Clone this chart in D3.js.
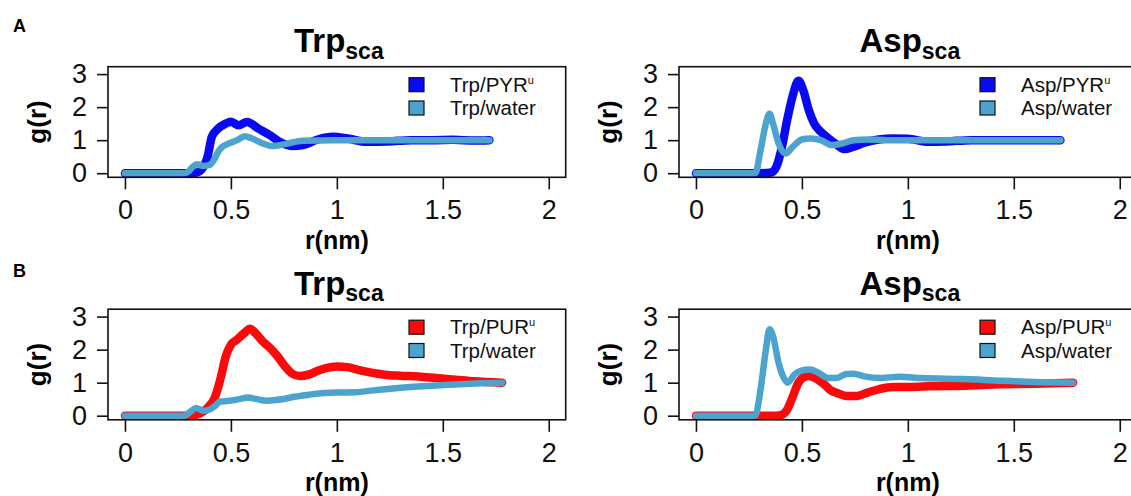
<!DOCTYPE html>
<html>
<head>
<meta charset="utf-8">
<script src="https://cdn.jsdelivr.net/npm/d3@7"></script>
<style>
  body { margin: 0; background: #fff; }
  svg { display: block; font-family: "Liberation Sans", Arial, sans-serif; }
</style>
</head>
<body>
<div class="chart"></div>
<script>
// ---- data ----
const xTicks = [0, 0.5, 1, 1.5, 2];
const yTicks = [0, 1, 2, 3];

// A, Trp: Trp/PYR
const trpPyrR = [0, 0.1, 0.2, 0.3, 0.34, 0.36, 0.39, 0.41, 0.44, 0.475, 0.5, 0.536, 0.576, 0.63, 0.685, 0.73, 0.79, 0.84, 0.91, 0.98, 1.05, 1.14, 1.24, 1.35, 1.45, 1.55, 1.65, 1.72];
const trpPyrG = [0, 0, 0, 0, 0.02, 0.1, 0.5, 1.1, 1.35, 1.5, 1.56, 1.45, 1.55, 1.35, 1.15, 0.95, 0.82, 0.85, 1.02, 1.1, 1.05, 0.95, 0.96, 1.0, 1.0, 1.01, 0.99, 1.0];
// A, Trp: Trp/water
const trpWatAR = [0, 0.1, 0.2, 0.28, 0.3, 0.32, 0.34, 0.37, 0.4, 0.42, 0.44, 0.46, 0.49, 0.53, 0.565, 0.6, 0.65, 0.7, 0.755, 0.84, 0.98, 1.1, 1.3, 1.5, 1.72];
const trpWatAG = [0, 0, 0, 0, 0.05, 0.2, 0.27, 0.22, 0.25, 0.4, 0.65, 0.8, 0.9, 1.0, 1.12, 1.05, 0.9, 0.82, 0.88, 0.98, 1.0, 1.0, 1.0, 1.0, 1.0];
// A, Asp: Asp/PYR
const aspPyrR = [0, 0.1, 0.2, 0.3, 0.355, 0.38, 0.406, 0.43, 0.457, 0.484, 0.507, 0.533, 0.558, 0.59, 0.626, 0.668, 0.7, 0.744, 0.794, 0.862, 0.93, 1.0, 1.1, 1.18, 1.3, 1.45, 1.6, 1.72];
const aspPyrG = [0, 0, 0, 0, 0.02, 0.2, 0.8, 1.6, 2.35, 2.8, 2.5, 1.9, 1.5, 1.25, 1.05, 0.85, 0.73, 0.8, 0.92, 1.02, 1.05, 1.04, 0.95, 0.96, 1.0, 1.0, 1.0, 1.0];
// A, Asp: Asp/water
const aspWatAR = [0, 0.1, 0.2, 0.28, 0.305, 0.33, 0.347, 0.364, 0.39, 0.423, 0.457, 0.5, 0.54, 0.59, 0.64, 0.69, 0.745, 0.81, 0.9, 1.0, 1.2, 1.4, 1.6, 1.72];
const aspWatAG = [0, 0, 0, 0, 0.7, 1.5, 1.8, 1.5, 0.9, 0.6, 0.8, 1.02, 1.05, 1.0, 0.85, 0.9, 1.0, 1.02, 1.0, 1.0, 1.0, 1.0, 1.0, 1.0];
// B, Trp: Trp/PUR
const trpPurR = [0, 0.1, 0.2, 0.28, 0.336, 0.388, 0.423, 0.45, 0.476, 0.5, 0.528, 0.563, 0.59, 0.616, 0.65, 0.685, 0.72, 0.755, 0.79, 0.825, 0.87, 0.91, 0.948, 1.0, 1.05, 1.1, 1.157, 1.227, 1.297, 1.385, 1.47, 1.56, 1.647, 1.78];
const trpPurG = [0, 0, 0, 0, 0.03, 0.23, 0.53, 1.1, 1.8, 2.15, 2.3, 2.5, 2.63, 2.5, 2.25, 2.05, 1.8, 1.5, 1.27, 1.2, 1.25, 1.36, 1.44, 1.49, 1.47, 1.39, 1.31, 1.24, 1.21, 1.19, 1.14, 1.09, 1.04, 1.0];
// B, Trp: Trp/water
const trpWatBR = [0, 0.1, 0.2, 0.28, 0.31, 0.336, 0.37, 0.397, 0.423, 0.45, 0.493, 0.545, 0.58, 0.616, 0.668, 0.72, 0.808, 0.895, 1.0, 1.087, 1.19, 1.33, 1.507, 1.68, 1.78];
const trpWatBG = [0, 0, 0, 0, 0.13, 0.23, 0.15, 0.18, 0.28, 0.43, 0.45, 0.51, 0.55, 0.51, 0.45, 0.48, 0.58, 0.66, 0.7, 0.71, 0.78, 0.86, 0.93, 0.98, 1.0];
// B, Asp: Asp/PUR
const aspPurR = [0, 0.1, 0.2, 0.3, 0.38, 0.406, 0.43, 0.457, 0.482, 0.507, 0.533, 0.567, 0.6, 0.634, 0.668, 0.71, 0.76, 0.81, 0.862, 0.93, 1.013, 1.1, 1.266, 1.435, 1.6, 1.78];
const aspPurG = [0, 0, 0, 0, 0, 0.03, 0.18, 0.58, 0.98, 1.16, 1.2, 1.13, 0.98, 0.78, 0.68, 0.6, 0.6, 0.7, 0.8, 0.87, 0.87, 0.89, 0.91, 0.95, 0.97, 1.0];
// B, Asp: Asp/water
const aspWatBR = [0, 0.1, 0.2, 0.28, 0.305, 0.33, 0.347, 0.364, 0.39, 0.415, 0.432, 0.465, 0.5, 0.54, 0.575, 0.626, 0.66, 0.71, 0.744, 0.794, 0.862, 0.963, 1.064, 1.266, 1.435, 1.6, 1.78];
const aspWatBG = [0, 0, 0, 0, 0.8, 2.0, 2.62, 2.4, 1.6, 1.14, 1.0, 1.25, 1.37, 1.4, 1.31, 1.14, 1.14, 1.26, 1.27, 1.19, 1.14, 1.18, 1.14, 1.11, 1.06, 1.02, 1.0];

const titles = ["Trp", "Asp", "Trp", "Asp"];
const legendNames = [["Trp/PYR", "Trp/water"], ["Asp/PYR", "Asp/water"], ["Trp/PUR", "Trp/water"], ["Asp/PUR", "Asp/water"]];
const seriesR = [[trpPyrR, trpWatAR], [aspPyrR, aspWatAR], [trpPurR, trpWatBR], [aspPurR, aspWatBR]];
const seriesG = [[trpPyrG, trpWatAG], [aspPyrG, aspWatAG], [trpPurG, trpWatBG], [aspPurG, aspWatBG]];

const BLUE = "#0a0af2", LIGHT = "#4ba3ce", RED = "#fa0a0a";
const mainColors = [BLUE, BLUE, RED, RED];

const W = 1131, H = 496;
const svg = d3.select(".chart").append("svg")
    .attr("width", W)
    .attr("height", H);

// panel offsets
const offsets = [[0, 0], [571, 0], [0, 242.5], [571, 242.5]];
const box = {left: 108, right: 565.7, top: 66.7, bottom: 177.3};

// panel letters
svg.append("text").text("A").attr("x", 13).attr("y", 32)
    .attr("font-weight", "bold").attr("font-size", 18);
svg.append("text").text("B").attr("x", 13).attr("y", 277)
    .attr("font-weight", "bold").attr("font-size", 18);

offsets.forEach((off, i) => {
    const [dx, dy] = off;
    const g = svg.append("g").attr("transform", `translate(${dx},${dy})`);

    const x = d3.scaleLinear().domain([-0.08, 2.08]).range([box.left, box.right]);
    const y = d3.scaleLinear().domain([-0.124, 3.224]).range([box.bottom, box.top]);

    // axes
    const xAxis = g.append("g")
        .attr("transform", `translate(0,${box.bottom})`)
        .call(d3.axisBottom(x).tickValues(xTicks).tickSize(12).tickPadding(11)
            .tickFormat(d3.format("")));
    const yAxis = g.append("g")
        .attr("transform", `translate(${box.left},0)`)
        .call(d3.axisLeft(y).tickValues(yTicks).tickSize(11).tickPadding(10)
            .tickFormat(d3.format("d")));
    [xAxis, yAxis].forEach(a => {
        a.select(".domain").remove();
        a.selectAll("line").attr("stroke", "#111").attr("stroke-width", 1.6);
        a.selectAll("text").attr("font-size", 27).attr("fill", "#111")
            .attr("font-family", "Liberation Sans, Arial, sans-serif");
    });

    // lines
    const line = d3.line().curve(d3.curveMonotoneX);
    const widths = [8.5, 6.5];
    const cols = [mainColors[i], LIGHT];
    [0, 1].forEach(s => {
        const pts = seriesR[i][s].map((r, k) => [x(r), y(seriesG[i][s][k])]);
        g.append("path")
            .attr("d", line(pts))
            .attr("fill", "none")
            .attr("stroke", cols[s])
            .attr("stroke-width", widths[s])
            .attr("stroke-linecap", "round")
            .attr("stroke-linejoin", "round");
    });

    // box
    g.append("rect")
        .attr("x", box.left).attr("y", box.top)
        .attr("width", box.right - box.left).attr("height", box.bottom - box.top)
        .attr("fill", "none").attr("stroke", "#111").attr("stroke-width", 1.6);

    // title
    const cx = (box.left + box.right) / 2;
    const t = g.append("text")
        .attr("x", cx + 2).attr("y", 52)
        .attr("text-anchor", "middle")
        .attr("font-weight", "bold").attr("font-size", 33);
    t.append("tspan").text(titles[i]);
    t.append("tspan").text("sca").attr("font-size", 23).attr("dy", 6.5);

    // axis labels
    g.append("text").text("r(nm)")
        .attr("x", cx).attr("y", 248.5)
        .attr("text-anchor", "middle")
        .attr("font-weight", "bold").attr("font-size", 25);
    g.append("text").text("g(r)")
        .attr("transform", `translate(46,${(box.top + box.bottom) / 2}) rotate(-90)`)
        .attr("text-anchor", "middle")
        .attr("font-weight", "bold").attr("font-size", 26);

    // legend
    [0, 1].forEach(s => {
        const ly = 84.7 + s * 23.3;
        g.append("rect")
            .attr("x", 409).attr("y", ly - 7)
            .attr("width", 15).attr("height", 14)
            .attr("fill", cols[s]).attr("stroke", "#111").attr("stroke-width", 1.2);
        const lt = g.append("text")
            .attr("x", 450).attr("y", ly + 7)
            .attr("font-size", 20.5).attr("fill", "#111");
        lt.append("tspan").text(legendNames[i][s]);
        if (s === 0) lt.append("tspan").text("u").attr("font-size", 11).attr("dy", -8);
    });
});
</script>
</body>
</html>
